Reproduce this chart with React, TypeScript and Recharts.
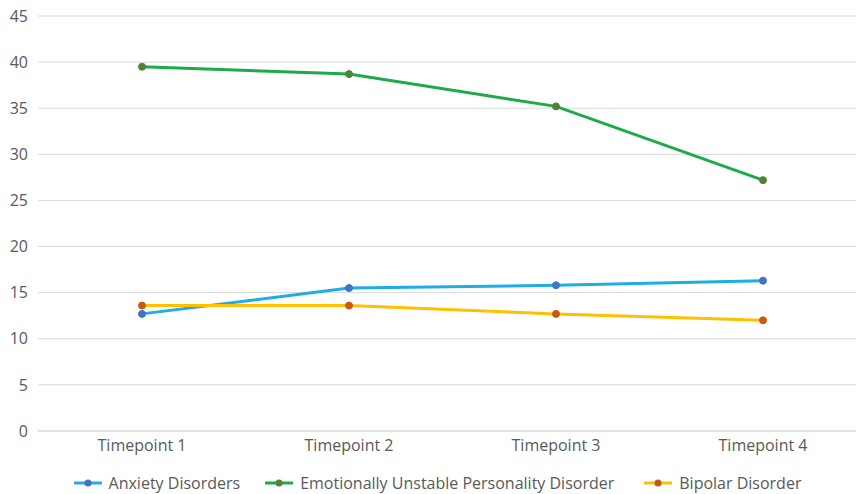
import { LineChart, Line, XAxis, YAxis, CartesianGrid, Legend } from 'recharts';

const timepoints = ['Timepoint 1', 'Timepoint 2', 'Timepoint 3', 'Timepoint 4'];
const anxiety = [12.7, 15.5, 15.8, 16.3];
const eupd = [39.5, 38.7, 35.2, 27.2];
const bipolar = [13.6, 13.6, 12.7, 12.0];
const yTicks = [0, 5, 10, 15, 20, 25, 30, 35, 40, 45];

const SERIES = [
  { key: 'anxiety', name: 'Anxiety Disorders', line: '#1FADE6', dot: '#4472C4' },
  { key: 'eupd', name: 'Emotionally Unstable Personality Disorder', line: '#1DAA4A', dot: '#548235' },
  { key: 'bipolar', name: 'Bipolar Disorder', line: '#FFC000', dot: '#C55A11' },
];

const data = timepoints.map((t, i) => ({
  name: t,
  anxiety: anxiety[i],
  eupd: eupd[i],
  bipolar: bipolar[i],
}));

const FONT = '"Open Sans", "Noto Sans", sans-serif';

function LegendContent() {
  return (
    <div
      style={{
        display: 'flex',
        justifyContent: 'center',
        paddingTop: 16,
        paddingLeft: 8,
        height: 22,
        lineHeight: '22px',
        fontFamily: FONT,
        fontSize: 16,
        color: '#595959',
      }}
    >
      {SERIES.map((s, i) => (
        <div key={s.key} style={{ display: 'flex', alignItems: 'center', marginLeft: i === 0 ? 0 : i === 1 ? 25 : 30 }}>
          <svg width={28} height={10} style={{ marginRight: 7 }}>
            <line x1={0} y1={5} x2={28} y2={5} stroke={s.line} strokeWidth={3} />
            <circle cx={14} cy={5} r={3.5} fill={s.dot} />
          </svg>
          <span>{s.name}</span>
        </div>
      ))}
    </div>
  );
}

export default function App() {
  return (
    <div style={{ position: 'fixed', left: 0, top: 0, width: 856, height: 494, overflow: 'hidden', background: '#fff' }}>
      <LineChart width={867} height={494} data={data} margin={{ top: 16, right: 0, bottom: 0, left: 0 }}>
        <CartesianGrid vertical={false} stroke="#D9D9D9" />
        <XAxis
          dataKey="name"
          height={25}
          padding={{ left: 104, right: 104 }}
          axisLine={{ stroke: '#D9D9D9' }}
          tickLine={false}
          tickSize={0}
          tickMargin={9}
          tick={{ fill: '#595959', fontSize: 16, fontFamily: FONT }}
        />
        <YAxis
          width={38}
          domain={[0, 45]}
          ticks={yTicks}
          axisLine={false}
          tickLine={false}
          tickSize={0}
          tickMargin={10}
          tick={{ fill: '#595959', fontSize: 16, fontFamily: FONT }}
        />
        <Legend verticalAlign="bottom" content={<LegendContent />} />
        {SERIES.map((s) => (
          <Line
            key={s.key}
            type="linear"
            dataKey={s.key}
            name={s.name}
            stroke={s.line}
            strokeWidth={3}
            dot={{ r: 3.5, fill: s.dot, stroke: s.dot, strokeWidth: 1 }}
            activeDot={false}
            isAnimationActive={false}
          />
        ))}
      </LineChart>
    </div>
  );
}
